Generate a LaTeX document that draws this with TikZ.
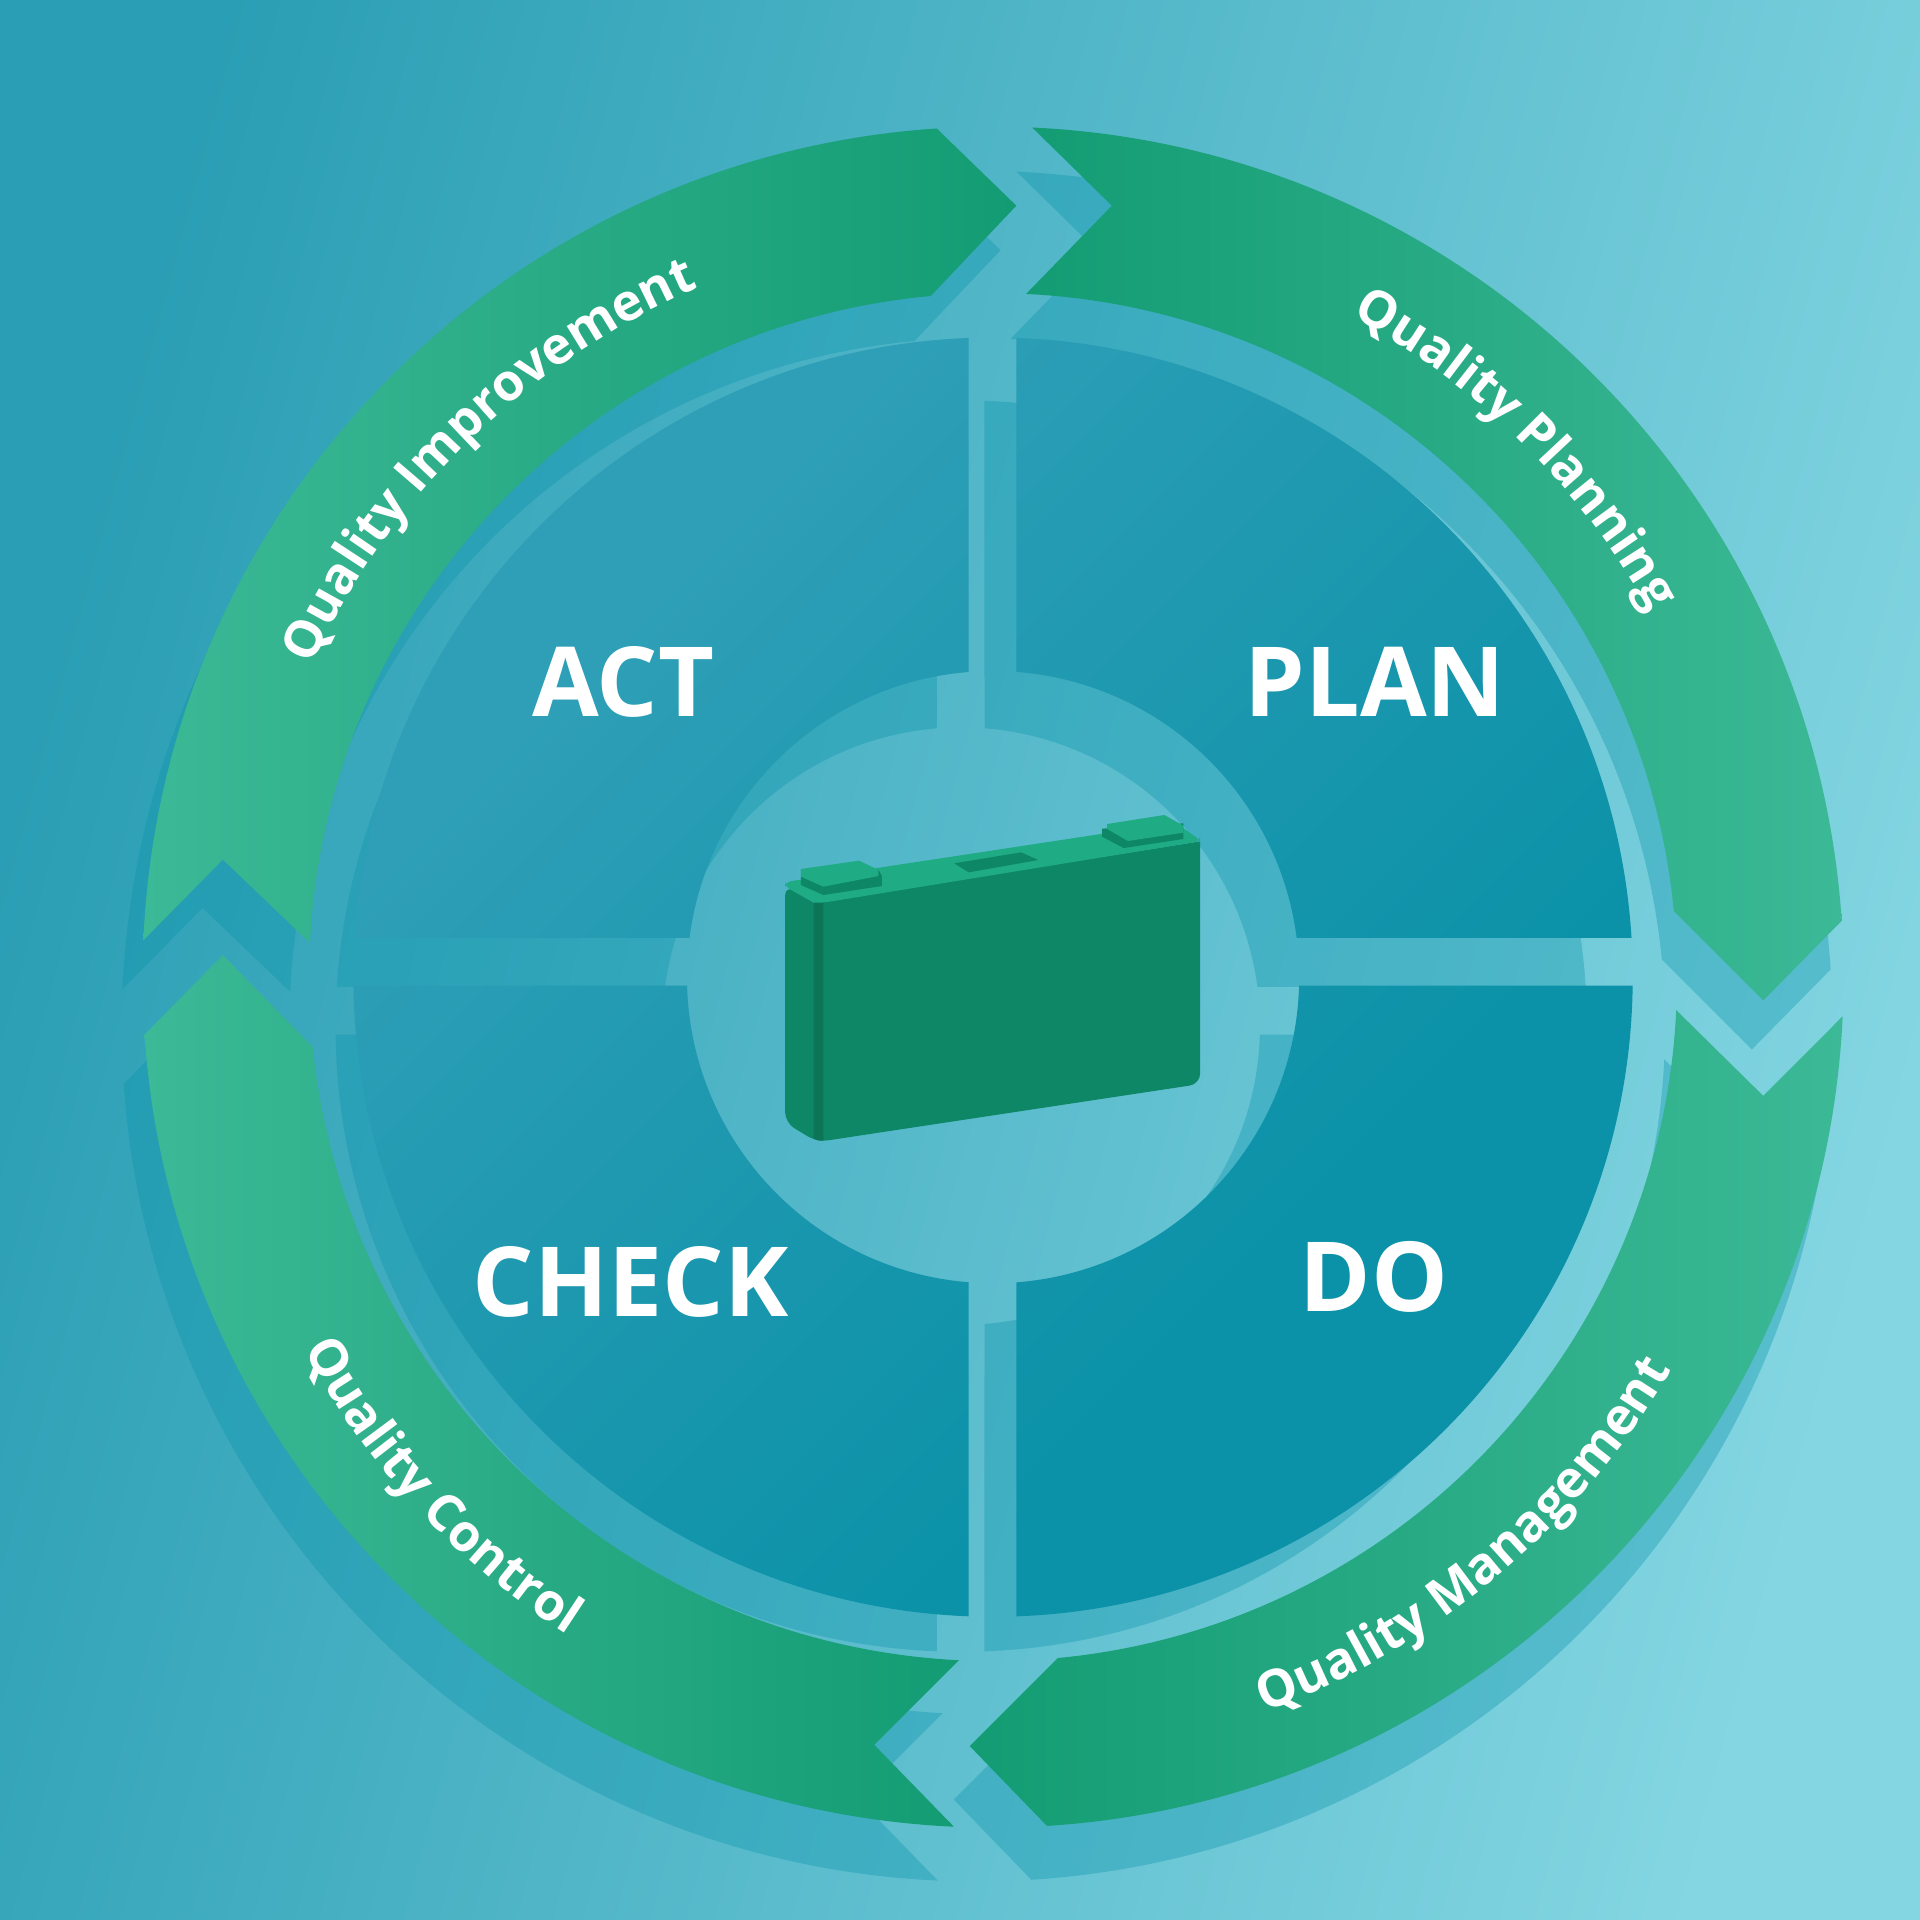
\documentclass[tikz,border=0pt]{standalone}
\usepackage{fontspec}
\setmainfont{Open Sans}
\usepackage{tikz}
\usetikzlibrary{positioning,decorations.text}
\definecolor{bgleft}{HTML}{2A9EB4}
\definecolor{bgright}{HTML}{84D6E2}
\definecolor{shadowteal}{HTML}{0A93AB}
\definecolor{panellight}{HTML}{2E9FB7}
\definecolor{panelmid}{HTML}{1A97AE}
\definecolor{paneldark}{HTML}{0B92A8}
\definecolor{ribbonlight}{HTML}{3CB996}
\definecolor{ribbondark}{HTML}{139C73}
\definecolor{casefront}{HTML}{0E8766}
\definecolor{casedark}{HTML}{0B7555}
\definecolor{casetop}{HTML}{1FAB83}
\pgfdeclarehorizontalshading{panelshade}{100bp}{color(0bp)=(panellight); color(35bp)=(panellight); color(50bp)=(panelmid); color(62bp)=(paneldark); color(100bp)=(paneldark)}
\newcommand{\ribbonfont}{\color{white}\bfseries\fontsize{14.6}{16}\selectfont}
\newcommand{\panelfont}{\color{white}\bfseries\fontsize{27.5}{30}\selectfont}
% panel ring, outer and inner radius
\newcommand{\panelring}[2]{%
({acos(19/#1)}:#1) arc[start angle={acos(19/#1)},end angle={asin(32/#1)},radius=#1] -- ({asin(32/#2)}:#2) arc[start angle={asin(32/#2)},end angle={acos(19/#2)},radius=#2] -- cycle
({180-acos(20/#1)}:#1) arc[start angle={180-acos(20/#1)},end angle={180-asin(32/#1)},radius=#1] -- ({180-asin(32/#2)}:#2) arc[start angle={180-asin(32/#2)},end angle={180-acos(20/#2)},radius=#2] -- cycle
({180+asin(7/#1)}:#1) arc[start angle={180+asin(7/#1)},end angle={180+acos(20/#1)},radius=#1] -- ({180+acos(20/#2)}:#2) arc[start angle={180+acos(20/#2)},end angle={180+asin(7/#2)},radius=#2] -- cycle
({-acos(19/#1)}:#1) arc[start angle={-acos(19/#1)},end angle={-asin(7/#1)},radius=#1] -- ({-asin(7/#2)}:#2) arc[start angle={-asin(7/#2)},end angle={-acos(19/#2)},radius=#2] -- cycle}
% ribbons, around the centre
\newcommand{\ribbonplan}{(87.36:694.6) arc[start angle=87.36,end angle=3.80,radius=694.6] -- (629,-19) -- (5.55:558.6) arc[start angle=5.55,end angle=87.23,radius=558.6] -- (97,630) -- cycle}
\newcommand{\ribbonact}{(177.52:694.6) arc[start angle=177.52,end angle=93.80,radius=694.6] -- (19,630) -- (95.23:558.6) arc[start angle=95.23,end angle=177.13,radius=558.6] -- (-629,96) -- cycle}
\newcommand{\ribboncheck}{(183.88:694.6) arc[start angle=183.88,end angle=267.36,radius=694.6] -- (-97,-627) -- (267.13:558.6) arc[start angle=267.13,end angle=185.86,radius=558.6] -- (-629,18) -- cycle}
\newcommand{\ribbondo}{(-2.64:694.6) arc[start angle=-2.64,end angle=-86.37,radius=694.6] -- (-19,-628) -- (-84.56:558.6) arc[start angle=-84.56,end angle=-2.77,radius=558.6] -- (629,-97) -- cycle}
\tikzset{
  shadowfill/.style={fill=shadowteal,fill opacity=0.35},
  ribbonshade/.style 2 args={left color=#1,right color=#2,draw=none},
  ribbonlabel/.style={decorate,decoration={text along path,text align=center,text={|\ribbonfont|#1}}},
  panellabel/.style={inner sep=0pt,font=\panelfont}
}
\begin{document}
\begin{tikzpicture}[x=0.012245cm,y=0.012245cm]
\useasboundingbox (0,0) rectangle (1568,1568);
\begin{scope}
\clip (0,0) rectangle (1568,1568);
\shade[left color=bgleft,right color=bgright,shading angle=75] (0,0) rectangle (1568,1568);
\end{scope}
\begin{scope}[shift={(811,770)}]
% shadows
\begin{scope}[shift={(-26,-40)}]
\fill[shadowfill] \panelring{511}{244};
\end{scope}
\begin{scope}[shift={(-13,-40)},scale=1.00576]
\fill[shadowfill] \ribbonplan;
\fill[shadowfill] \ribbonact;
\fill[shadowfill] \ribboncheck;
\fill[shadowfill] \ribbondo;
\end{scope}
% panels
\begin{scope}
\clip \panelring{522.4}{250};
\shade[shading=panelshade,shading angle=-45] (-700,-700) rectangle (700,700);
\end{scope}
% ribbons
\shade[ribbonshade={ribbondark}{ribbonlight}] \ribbonplan;
\shade[ribbonshade={ribbonlight}{ribbondark}] \ribbonact;
\shade[ribbonshade={ribbonlight}{ribbondark}] \ribboncheck;
\shade[ribbonshade={ribbondark}{ribbonlight}] \ribbondo;
% ribbon texts
\path[ribbonlabel={Quality Planning}] (75.3:614) arc[start angle=75.3,end angle=15.3,radius=614];
\path[ribbonlabel={Quality Improvement}] (170:612) arc[start angle=170,end angle=98.6,radius=612];
\path[ribbonlabel={Quality Control}] (194.7:640) arc[start angle=194.7,end angle=250.7,radius=640];
\path[ribbonlabel={Quality Management}] (-85.5:640) arc[start angle=-85.5,end angle=-14.3,radius=640];
% panel texts
\node[panellabel] (act) at (-302,241) {ACT};
\node[panellabel] (plan) at (312,241) {PLAN};
\node[panellabel] (check) at (-296,-249) {CHECK};
\node[panellabel] (do) at (311,-245) {DO};
% battery
\begin{scope}[shift={(-239.3,177.3)},xscale=0.2813,yscale=-0.2722]
\fill[casefront] (247,375) -- (330,428) -- (1452,244) [rounded corners=3pt] -- (1452,972) -- (340,1146) -- (247,1088) -- cycle;
\fill[casedark] (330,428) -- (358,428) -- (358,1142) -- (345,1142) -- (330,1137) -- cycle;
\fill[casetop,rounded corners=1.5pt] (247,380) -- (247,366) -- (1380,188) -- (1452,240) -- (1452,244) -- (358,428) -- (330,428) -- cycle;
\fill[casefront] (738,310) -- (932,277) -- (982,300) -- (780,337) -- cycle;
\fill[casefront] (293,350) -- (518,330) -- (528,348) -- (528,378) -- (358,405) -- (293,375) -- cycle;
\fill[casetop] (293,327) -- (462,302) -- (518,330) -- (518,348) -- (358,380) -- (293,350) -- cycle;
\fill[casefront] (1167,206) -- (1403,190) -- (1403,237) -- (1230,264) -- (1167,230) -- cycle;
\fill[casetop] (1182,192) -- (1348,165) -- (1403,197) -- (1403,218) -- (1242,243) -- (1182,207) -- cycle;
\end{scope}
\end{scope}
\end{tikzpicture}
\end{document}
